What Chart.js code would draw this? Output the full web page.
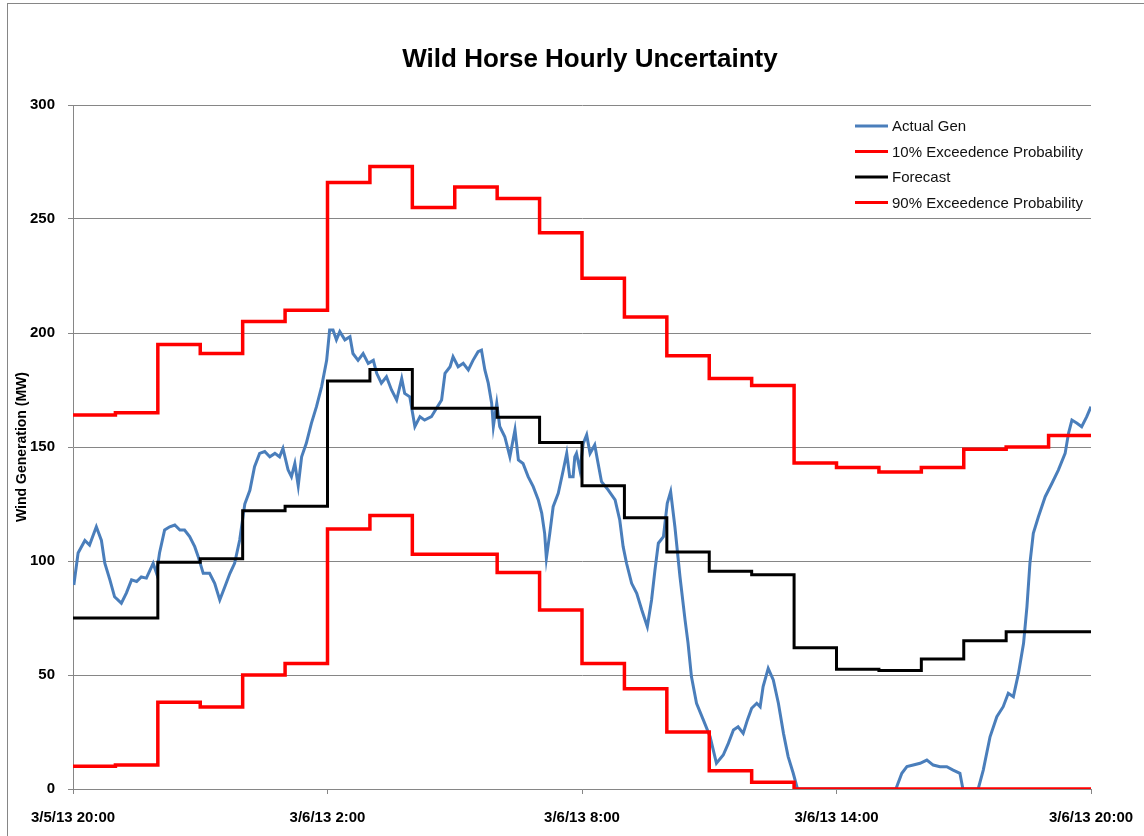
<!DOCTYPE html>
<html>
<head>
<meta charset="utf-8">
<script src="https://cdn.jsdelivr.net/npm/chart.js@4"></script>
<style>
  html, body { margin: 0; padding: 0; background: #fff; }
  #wrap { width: 1144px; height: 836px; position: relative; }
</style>
</head>
<body>
<div id="wrap"><canvas id="c" width="1144" height="836"></canvas></div>
<script>
// ---- Data ----
const chartTitle = "Wild Horse Hourly Uncertainty";
const yAxisTitle = "Wind Generation (MW)";
const seriesNames = ["Actual Gen", "10% Exceedence Probability", "Forecast", "90% Exceedence Probability"];
const tickHours = [0, 6, 12, 18, 24];
const tickLabels = ["3/5/13 20:00", "3/6/13 2:00", "3/6/13 8:00", "3/6/13 14:00", "3/6/13 20:00"];
const yTicks = [0, 50, 100, 150, 200, 250, 300];

// hourly values (hour 0 = 3/5/13 20:00)
const upper10 = [164, 165, 195, 191, 205, 210, 266, 273, 255, 264, 259, 244, 224, 207, 190, 180, 177, 143, 141, 139, 141, 149, 150, 155];
const forecast = [75, 75, 99.5, 101, 122, 124, 179, 184, 167, 167, 163, 152, 133, 119, 104, 95.5, 94, 62, 52.5, 52, 57, 65, 69, 69];
const lower90 = [10, 10.5, 38, 36, 50, 55, 114, 120, 103, 103, 95, 78.5, 55, 44, 25, 8, 3, 0, 0, 0, 0, 0, 0, 0];

// actual generation: hours since start, MW
const actualHours = [
  0.02, 0.12, 0.28, 0.39, 0.55, 0.67, 0.75, 0.87, 0.98, 1.14, 1.26, 1.38, 1.50, 1.61, 1.73, 1.89, 1.97,
  2.04, 2.16, 2.28, 2.40, 2.52, 2.63, 2.75, 2.87, 2.95, 3.07, 3.22, 3.34, 3.46, 3.58, 3.70, 3.81, 3.93,
  4.05, 4.17, 4.28, 4.40, 4.52, 4.64, 4.76, 4.87, 4.95, 5.07, 5.15, 5.23, 5.31, 5.39, 5.50, 5.62, 5.74, 5.86, 5.98,
  6.05, 6.13, 6.21, 6.29, 6.41, 6.53, 6.60, 6.72, 6.84, 6.96, 7.08, 7.16, 7.27, 7.39, 7.51, 7.63, 7.75, 7.82, 7.94,
  8.06, 8.18, 8.29, 8.45, 8.57, 8.69, 8.77, 8.89, 8.96, 9.08, 9.20, 9.32, 9.43, 9.55, 9.63, 9.71, 9.79, 9.87, 9.91, 9.99,
  10.06, 10.18, 10.30, 10.42, 10.50, 10.61, 10.73, 10.85, 10.97, 11.05, 11.12, 11.16, 11.24, 11.32, 11.44, 11.56, 11.64, 11.71, 11.79, 11.83, 11.87, 11.95,
  12.03, 12.11, 12.19, 12.30, 12.38, 12.46, 12.62, 12.78, 12.89, 12.97, 13.05, 13.17, 13.29, 13.41, 13.54, 13.64, 13.72, 13.80, 13.92,
  14.01, 14.09, 14.19, 14.31, 14.43, 14.50, 14.58, 14.70, 14.86, 15.02, 15.17, 15.33, 15.45, 15.57, 15.68, 15.80, 15.90,
  16.00, 16.12, 16.20, 16.27, 16.39, 16.51, 16.63, 16.75, 16.86, 16.98, 17.08,
  19.40, 19.54, 19.66, 19.81, 19.97, 20.13, 20.28, 20.44, 20.60, 20.75, 20.91, 20.98,
  21.34, 21.46, 21.62, 21.78, 21.93, 22.05, 22.17, 22.29, 22.41, 22.49, 22.56, 22.64, 22.76, 22.92,
  23.08, 23.23, 23.39, 23.47, 23.55, 23.67, 23.78, 23.90, 24.00
];
const actualValues = [
  89.5, 103.5, 109, 107, 115, 109, 99, 91.7, 84.3, 81.5, 86, 91.7, 91, 93, 92.5, 99, 94.6,
  103.5, 113.6, 115, 115.8, 113.6, 113.6, 110.7, 106.3, 102, 94.6, 94.6, 90.2, 82.9, 88.7, 94.6, 99, 109.2,
  125, 131, 141.4, 147.2, 148, 145.7, 147.2, 145.7, 149.4, 140, 137, 142.8, 133, 145.7, 151.6, 160.4, 167.7, 176.4, 188,
  201.3, 201.3, 197, 200.6, 197, 198.4, 191, 188, 191, 186.7, 188, 182.3, 178, 180.8, 175, 170.6, 180, 173.5, 172,
  159, 163.3, 161.8, 163.3, 167, 170.6, 182.3, 185.2, 189.6, 185.2, 186.7, 183.8, 188, 191.8, 192.5, 183.8, 178, 169.2, 159, 169.2,
  159, 154.5, 145.7, 157.5, 144.3, 142.8, 137, 132.6, 126.8, 121, 112, 101.2, 112, 123.8, 129.7, 140, 147.2, 137, 137, 145.7, 147.2, 140,
  151.6, 155.3, 147.2, 150.9, 142.8, 134.8, 131.1, 126.8, 118, 106.3, 99, 90.2, 85.8, 78.5, 71.2, 82.9, 96, 107.8, 110.7,
  125.3, 130.4, 115, 93.1, 74.1, 64, 49.3, 37.6, 30.3, 22.9, 11.3, 14.9, 20, 25.9, 27.3, 24.4, 30.3,
  35.4, 37.6, 36.1, 44.9, 52.9, 47.8, 37.6, 24.4, 14.2, 6.9, 0,
  0, 6.9, 9.8, 10.5, 11.3, 12.7, 10.5, 9.8, 9.8, 8.3, 6.9, 0,
  0, 8.3, 22.9, 31.7, 36.1, 42, 40.5, 50.7, 63.9, 80, 99, 112.1, 119.4, 128.2,
  134.1, 139.9, 147.2, 156, 161.8, 160.4, 158.9, 163.3, 167.7
];

const colors = ["#4A7EBB", "#FF0000", "#000000", "#FF0000"];
const gridColor = "#868686";
const FONT = "'Liberation Sans', Arial, sans-serif";

// build step points from hourly values
function hourlySteps(vals) {
  const pts = [];
  vals.forEach((v, h) => { pts.push({ x: h, y: v }); pts.push({ x: h + 1, y: v }); });
  return pts;
}
const actualPts = actualHours.map((h, i) => ({ x: h, y: actualValues[i] }));

const decorPlugin = {
  id: 'decor',
  beforeDraw(chart) {
    const ctx = chart.ctx;
    ctx.save();
    ctx.strokeStyle = gridColor;
    ctx.lineWidth = 1;
    ctx.strokeRect(7.5, 3.5, 1150, 850);
    ctx.restore();
  },
  afterDraw(chart) {
    const ctx = chart.ctx;
    const ca = chart.chartArea;
    ctx.save();
    // title
    ctx.fillStyle = "#000";
    ctx.font = "bold 26px " + FONT;
    ctx.textAlign = "center";
    ctx.textBaseline = "alphabetic";
    ctx.fillText(chartTitle, 590, 67);
    // legend
    const lx = ca.right - 236, ly = ca.top + 21, step = 25.5;
    ctx.font = "15px " + FONT;
    ctx.textAlign = "left";
    ctx.textBaseline = "middle";
    seriesNames.forEach((name, i) => {
      const y = ly + i * step;
      ctx.strokeStyle = colors[i];
      ctx.lineWidth = 3;
      ctx.beginPath();
      ctx.moveTo(lx, y);
      ctx.lineTo(lx + 33, y);
      ctx.stroke();
      ctx.fillStyle = "#111";
      ctx.fillText(name, lx + 37, y + 1);
    });
    ctx.restore();
  }
};

new Chart(document.getElementById('c'), {
  type: 'line',
  data: {
    datasets: [
      { label: seriesNames[0], data: actualPts, borderColor: colors[0], borderWidth: 3, order: 4, clip: 0 },
      { label: seriesNames[1], data: hourlySteps(upper10), borderColor: colors[1], borderWidth: 3.5, order: 3, clip: 0 },
      { label: seriesNames[2], data: hourlySteps(forecast), borderColor: colors[2], borderWidth: 3, order: 2, clip: 0 },
      { label: seriesNames[3], data: hourlySteps(lower90), borderColor: colors[3], borderWidth: 3.5, order: 1, clip: 0 }
    ]
  },
  options: {
    responsive: false,
    animation: false,
    elements: { point: { radius: 0, hoverRadius: 0 }, line: { tension: 0, fill: false, borderJoinStyle: 'miter', borderCapStyle: 'butt' } },
    layout: { padding: { top: 105, right: 53, bottom: 0, left: 0 } },
    plugins: {
      legend: { display: false },
      title: { display: false },
      tooltip: { enabled: false }
    },
    scales: {
      x: {
        type: 'linear',
        min: 0, max: 24,
        afterBuildTicks(scale) { scale.ticks = tickHours.map(v => ({ value: v })); },
        afterFit(scale) { scale.height = 47; scale.paddingLeft = 0; scale.paddingRight = 0; },
        ticks: {
          autoSkip: false, maxRotation: 0, padding: 15,
          color: "#000",
          font: { family: FONT, size: 15, weight: 'bold' },
          callback(value) { const i = tickHours.indexOf(value); return i >= 0 ? tickLabels[i] : ''; }
        },
        grid: { drawOnChartArea: false, drawTicks: true, tickLength: 5, color: gridColor, lineWidth: 1 },
        border: { display: true, color: gridColor, width: 1 }
      },
      y: {
        min: 0, max: 300,
        afterBuildTicks(scale) { scale.ticks = yTicks.map(v => ({ value: v })); },
        afterFit(scale) { scale.width = 73; scale.paddingTop = 0; scale.paddingBottom = 0; },
        ticks: {
          padding: 13, color: "#000",
          font: { family: FONT, size: 15, weight: 'bold' }
        },
        grid: { drawTicks: true, tickLength: 5, color: gridColor, lineWidth: 1 },
        border: { display: true, color: gridColor, width: 1 },
        title: {
          display: true, text: yAxisTitle, color: "#000",
          font: { family: FONT, size: 14, weight: 'bold' },
          padding: { top: 14, bottom: 0 }
        }
      }
    }
  },
  plugins: [decorPlugin]
});
</script>
</body>
</html>
